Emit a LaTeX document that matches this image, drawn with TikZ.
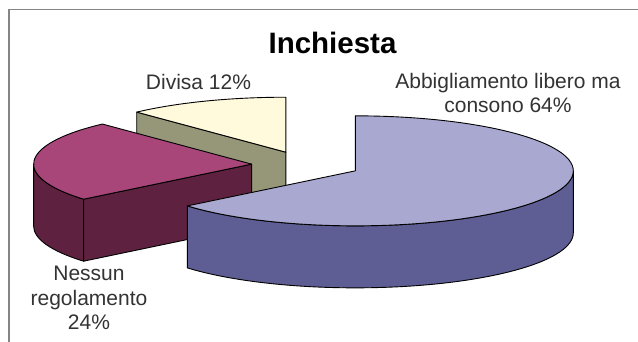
\documentclass[tikz,border=0pt]{standalone}
\usepackage{fontspec}
\setmainfont{Liberation Sans}
\usetikzlibrary{calc}
\definecolor{bigtop}{HTML}{A9A8D0}
\definecolor{bigside}{HTML}{5E5E94}
\definecolor{nestop}{HTML}{A8467A}
\definecolor{nesside}{HTML}{5E2240}
\definecolor{divtop}{HTML}{FFFADC}
\definecolor{divside}{HTML}{969678}
\definecolor{framegray}{HTML}{858585}
\definecolor{labelgray}{HTML}{333333}
\begin{document}
\begin{tikzpicture}[x=1pt,y=1pt,
  slice/.style={draw=black, line width=0.9pt, line join=round},
  lbl/.style={font=\fontsize{21}{24.5}\selectfont, text=labelgray, align=center, inner sep=0pt},
  ttl/.style={font=\fontsize{29.5}{34}\selectfont\bfseries, text=black, inner sep=0pt}]
\useasboundingbox (0,0) rectangle (638,342);
\fill[white] (0,0) rectangle (638,342);
% frame
\draw[framegray, line width=1.2pt] (9,0) -- (9,332.5) -- (638,332.5);
\def\A{218}
\def\B{55}
\def\H{62}
\coordinate (P) at (306,177);
\coordinate (Cb) at ($(P)+({0.25*\A*cos(-25.2)},{0.25*\B*sin(-25.2)})$);
\coordinate (Cd) at ($(P)+({0.25*\A*cos(111.6)},{0.25*\B*sin(111.6)})$);
\coordinate (Cn) at ($(P)+({0.25*\A*cos(176.4)},{0.25*\B*sin(176.4)})$);
% rim points
\coordinate (d1) at ($(Cd)+({\A*cos(90)},{\B*sin(90)})$);
\coordinate (d2) at ($(Cd)+({\A*cos(133.2)},{\B*sin(133.2)})$);
\coordinate (n1) at ($(Cn)+({\A*cos(133.2)},{\B*sin(133.2)})$);
\coordinate (n2) at ($(Cn)+({\A*cos(219.6)},{\B*sin(219.6)})$);
\coordinate (n180) at ($(Cn)+({\A*cos(180)},{\B*sin(180)})$);
\coordinate (b90) at ($(Cb)+({\A*cos(90)},{\B*sin(90)})$);
\coordinate (bL) at ($(Cb)+({\A*cos(-140.4)},{\B*sin(-140.4)})$);
% Divisa (back)
\filldraw[slice, fill=divside] (Cd) -- (d2) -- ($(d2)+(0,-\H)$) -- ($(Cd)+(0,-\H)$) -- cycle;
\filldraw[slice, fill=divtop] (Cd) -- (d1) arc[start angle=90, end angle=133.2, x radius=\A, y radius=\B] -- cycle;
% Nessun regolamento
\filldraw[slice, fill=nesside] (n180) arc[start angle=180, end angle=219.6, x radius=\A, y radius=\B] -- ++(0,-\H) arc[start angle=219.6, end angle=180, x radius=\A, y radius=\B] -- cycle;
\filldraw[slice, fill=nesside] (n2) -- (Cn) -- ($(Cn)+(0,-\H)$) -- ($(n2)+(0,-\H)$) -- cycle;
\filldraw[slice, fill=nestop] (Cn) -- (n1) arc[start angle=133.2, end angle=219.6, x radius=\A, y radius=\B] -- cycle;
% Abbigliamento (front)
\filldraw[slice, fill=bigside] (bL) arc[start angle=-140.4, end angle=0, x radius=\A, y radius=\B] -- ++(0,-\H) arc[start angle=0, end angle=-140.4, x radius=\A, y radius=\B] -- cycle;
\filldraw[slice, fill=bigtop] (Cb) -- (b90) arc[start angle=90, end angle=-140.4, x radius=\A, y radius=\B] -- cycle;
% labels (base anchor = baseline of last line)
\node[ttl, anchor=base] (title) at (332.5,288) {Inchiesta};
\node[lbl, anchor=base] (ldiv) at (198.5,252) {Divisa 12\%};
\node[lbl, anchor=base] (lbig) at (508,229) {Abbigliamento libero ma\\consono 64\%};
\node[lbl, anchor=base] (lnes) at (89,12) {Nessun\\regolamento\\24\%};
\end{tikzpicture}
\end{document}
